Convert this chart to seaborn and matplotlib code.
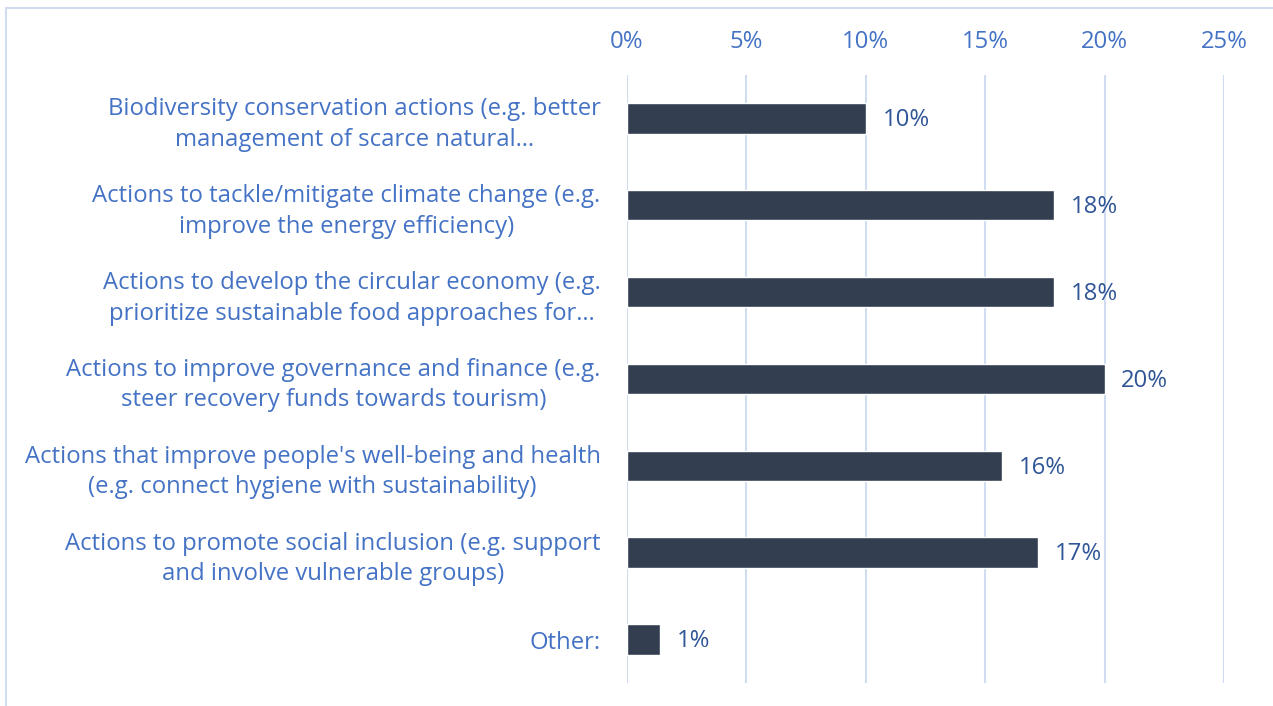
import numpy as np
import pandas as pd
import seaborn as sns
import matplotlib.pyplot as plt
from matplotlib.lines import Line2D
from matplotlib.ticker import FuncFormatter

#### Data

categories = [
    "Biodiversity conservation actions (e.g. better\nmanagement of scarce natural\u2026",
    "Actions to tackle/mitigate climate change (e.g.\nimprove the energy efficiency)",
    "Actions to develop the circular economy (e.g.\nprioritize sustainable food approaches for\u2026",
    "Actions to improve governance and finance (e.g.\nsteer recovery funds towards tourism)",
    "Actions that improve people's well-being and health\n(e.g. connect hygiene with sustainability)",
    "Actions to promote social inclusion (e.g. support\nand involve vulnerable groups)",
    "Other:",
]
shares = [10.0, 17.9, 17.9, 20.0, 15.7, 17.2, 1.4]
x_ticks = [0, 5, 10, 15, 20, 25]

df = pd.DataFrame({"cat": categories, "share": shares})

#### Style

sns.set_theme(style="white")
plt.rcParams["font.family"] = ["Open Sans", "DejaVu Sans"]

bar_col = "#333F50"
tick_col = "#4472C4"
val_col = "#2F5597"
grid_col = "#D0DCF0"
fs = 17.2

fig = plt.figure(figsize=(12.73, 7.06), dpi=100, facecolor="white")
ax = fig.add_axes([0.4925, 0.0326, 0.4690, 0.8612])

sns.barplot(data=df, x="share", y="cat", orient="h", color=bar_col,
            width=0.35, saturation=1, ax=ax, zorder=3)

ax.set_xlim(0, 25)
ax.set_ylim(6.5, -0.5)
ax.set_xticks(x_ticks)
ax.xaxis.set_major_formatter(FuncFormatter(lambda v, pos: f"{v:.0f}%"))
ax.xaxis.tick_top()
ax.tick_params(axis="x", length=0, pad=15, labelsize=fs, labelcolor=tick_col)
ax.tick_params(axis="y", length=0, pad=19, labelsize=fs, labelcolor=tick_col)
for t in ax.get_yticklabels():
    t.set_multialignment("center")
    t.set_linespacing(1.36)
ax.set_xlabel("")
ax.set_ylabel("")
ax.grid(axis="x", color=grid_col, linewidth=1.5, zorder=0)
sns.despine(ax=ax, left=True, bottom=True, right=True, top=True)

for i, v in enumerate(shares):
    ax.text(v + 0.7, i + 0.02, f"{v:.0f}%", va="center", ha="left",
            fontsize=fs, color=val_col)

# chart border (top and left edges)
fig.add_artist(Line2D([6 / 1273, 1], [1 - 8 / 706, 1 - 8 / 706],
                      color=grid_col, linewidth=1.5, transform=fig.transFigure))
fig.add_artist(Line2D([6 / 1273, 6 / 1273], [0, 1 - 8 / 706],
                      color=grid_col, linewidth=1.5, transform=fig.transFigure))

plt.savefig("out.png", dpi=100, facecolor="white")
